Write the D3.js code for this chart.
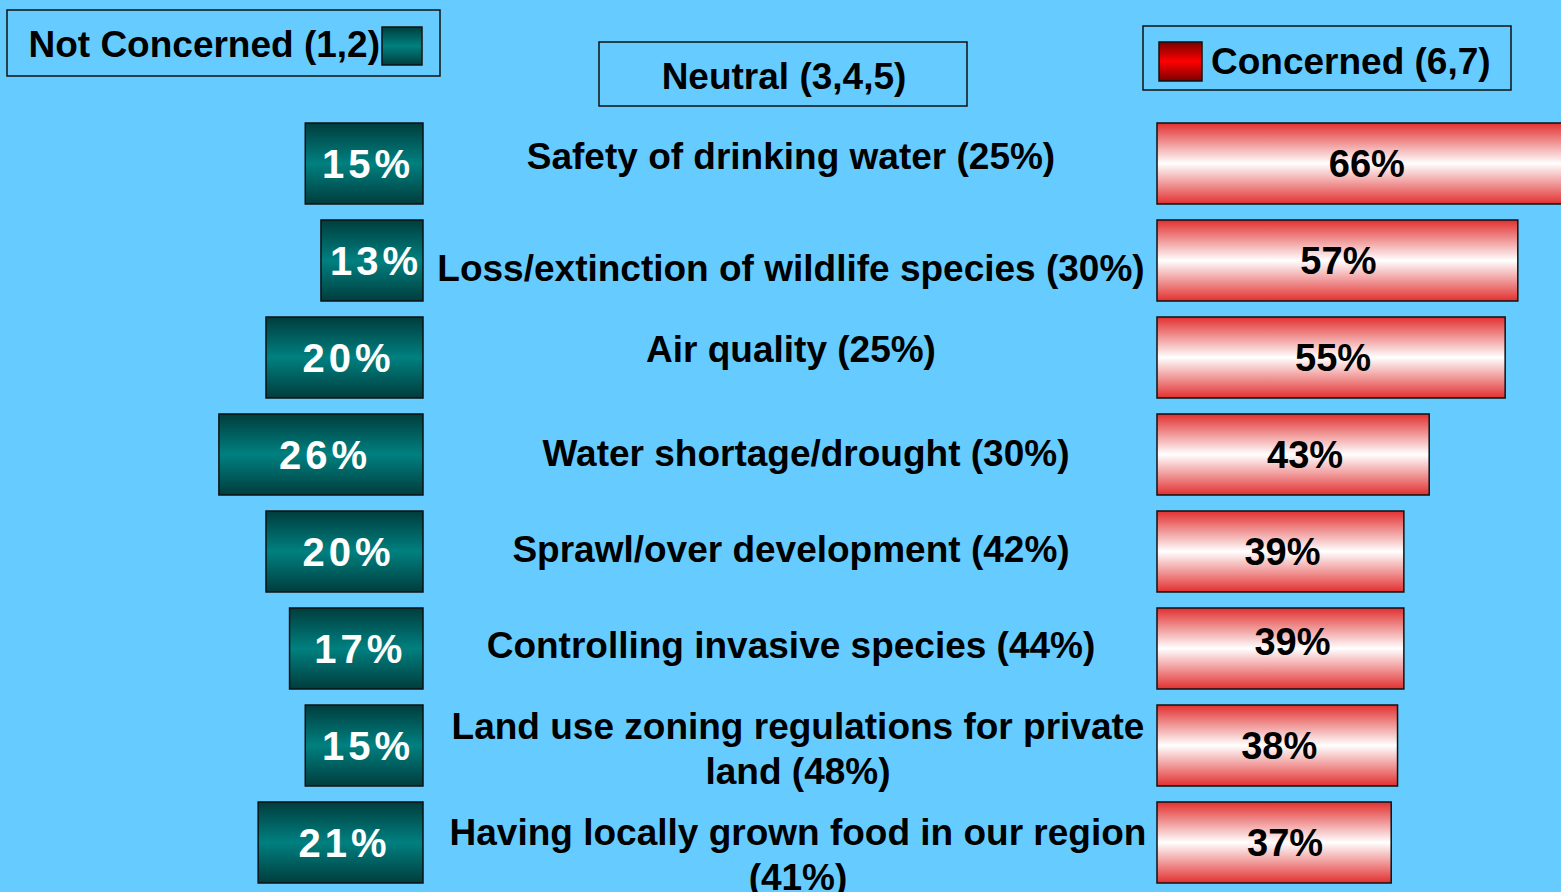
<!DOCTYPE html>
<html>
<head>
<meta charset="utf-8">
<script src="https://cdn.jsdelivr.net/npm/d3@7"></script>
<style>
  html, body { margin: 0; padding: 0; background: #66CCFF; overflow: hidden; }
  svg { display: block; font-family: "Liberation Sans", Arial, sans-serif; font-weight: bold; }
</style>
</head>
<body>
<div id="chart"></div>
<script>
// data
const categories = [
    "Safety of drinking water (25%)",
    "Loss/extinction of wildlife species (30%)",
    "Air quality (25%)",
    "Water shortage/drought (30%)",
    "Sprawl/over development (42%)",
    "Controlling invasive species (44%)",
    "Land use zoning regulations for private|land (48%)",
    "Having locally grown food in our region|(41%)"
];
const notConcerned = [15, 13, 20, 26, 20, 17, 15, 21];
const concerned = [66, 57, 55, 43, 39, 39, 38, 37];
const legendLabels = ["Not Concerned (1,2)", "Neutral (3,4,5)", "Concerned (6,7)"];

const width = 1561, height = 892;
// small per-row nudges (layout only)
const labelDx = [0, 0, 0, 15, 0, 0, 7, 7];
const labelDy = [5, 20, 4, 11, 10, 9, -7, 2];
const concernedDx = [1, 1, 2, 12, 2, 12, 2, 11];
const concernedDy = [0, 0, 0, 0, 0, -7, 0, 0];

const svg = d3.select("#chart")
    .append("svg")
    .attr("width", width)
    .attr("height", height);

svg.append("rect")
    .attr("width", width)
    .attr("height", height)
    .attr("fill", "#66CCFF");

const defs = svg.append("defs");

const addGradient = (id, edge, mid) => {
    const g = defs.append("linearGradient")
        .attr("id", id)
        .attr("x1", 0).attr("y1", 0)
        .attr("x2", 0).attr("y2", 1);
    g.append("stop").attr("offset", "0%").attr("stop-color", edge);
    g.append("stop").attr("offset", "50%").attr("stop-color", mid);
    g.append("stop").attr("offset", "100%").attr("stop-color", edge);
};
addGradient("teal", "#003d3d", "#008080");
addGradient("whiteRed", "#e23030", "#ffffff");
addGradient("red", "#7a0000", "#ff0000");

// scales
const yScale = d3.scaleBand()
    .domain(categories)
    .range([123, 883])
    .paddingInner(16 / 97)
    .paddingOuter(0);

const leftEdge = 423, rightEdge = 1157;
const xLeft = d3.scaleLinear().domain([0, 100]).range([0, 785]);
const xRight = d3.scaleLinear().domain([0, 100]).range([0, 633]);

const rows = categories.map((c, i) => ({
    cat: c, lines: c.split("|"), nc: notConcerned[i], co: concerned[i],
    dx: labelDx[i], dy: labelDy[i], cdx: concernedDx[i], cdy: concernedDy[i]
}));

// not concerned bars
const leftG = svg.append("g");
leftG.selectAll("rect")
    .data(rows)
    .join("rect")
    .attr("x", d => leftEdge - xLeft(d.nc))
    .attr("y", d => yScale(d.cat))
    .attr("width", d => xLeft(d.nc))
    .attr("height", yScale.bandwidth())
    .attr("fill", "url(#teal)")
    .attr("stroke", "#111")
    .attr("stroke-width", 1.5);

leftG.selectAll("text")
    .data(rows)
    .join("text")
    .attr("x", d => leftEdge - xLeft(d.nc) / 2 + 4)
    .attr("y", d => yScale(d.cat) + yScale.bandwidth() / 2 + 14)
    .attr("text-anchor", "middle")
    .attr("fill", "#fff")
    .attr("font-size", 40)
    .attr("letter-spacing", 4)
    .text(d => d.nc + "%");

// concerned bars
const rightG = svg.append("g");
rightG.selectAll("rect")
    .data(rows)
    .join("rect")
    .attr("x", rightEdge)
    .attr("y", d => yScale(d.cat))
    .attr("width", d => xRight(d.co))
    .attr("height", yScale.bandwidth())
    .attr("fill", "url(#whiteRed)")
    .attr("stroke", "#111")
    .attr("stroke-width", 1.5);

rightG.selectAll("text")
    .data(rows)
    .join("text")
    .attr("x", d => rightEdge + xRight(d.co) / 2 + d.cdx)
    .attr("y", d => yScale(d.cat) + yScale.bandwidth() / 2 + 13 + d.cdy)
    .attr("text-anchor", "middle")
    .attr("fill", "#000")
    .attr("font-size", 38)
    .text(d => d.co + "%");

// category labels in the middle
const labelG = svg.append("g");
labelG.selectAll("text")
    .data(rows)
    .join("text")
    .attr("y", d => yScale(d.cat) + yScale.bandwidth() / 2 + d.dy)
    .attr("text-anchor", "middle")
    .attr("fill", "#000")
    .attr("font-size", 37)
    .each(function(d) {
        d3.select(this).selectAll("tspan")
            .data(d.lines)
            .join("tspan")
            .attr("x", 791 + d.dx)
            .attr("dy", (l, j) => j === 0 ? 0 : 45)
            .text(l => l);
    });

// legend boxes
const legend = svg.append("g");

legend.append("rect")
    .attr("x", 7).attr("y", 10).attr("width", 433).attr("height", 66)
    .attr("fill", "none").attr("stroke", "#111").attr("stroke-width", 1.5);
legend.append("text")
    .attr("x", 380).attr("y", 57)
    .attr("text-anchor", "end")
    .attr("font-size", 37)
    .text(legendLabels[0]);
legend.append("rect")
    .attr("x", 382).attr("y", 27).attr("width", 40).attr("height", 38)
    .attr("fill", "url(#teal)").attr("stroke", "#111").attr("stroke-width", 1.5);

legend.append("rect")
    .attr("x", 599).attr("y", 42).attr("width", 368).attr("height", 64)
    .attr("fill", "none").attr("stroke", "#111").attr("stroke-width", 1.5);
legend.append("text")
    .attr("x", 784).attr("y", 89)
    .attr("text-anchor", "middle")
    .attr("font-size", 37)
    .text(legendLabels[1]);

legend.append("rect")
    .attr("x", 1143).attr("y", 26).attr("width", 368).attr("height", 64)
    .attr("fill", "none").attr("stroke", "#111").attr("stroke-width", 1.5);
legend.append("rect")
    .attr("x", 1159).attr("y", 42).attr("width", 43).attr("height", 39)
    .attr("fill", "url(#red)").attr("stroke", "#111").attr("stroke-width", 1.5);
legend.append("text")
    .attr("x", 1211).attr("y", 74)
    .attr("font-size", 37)
    .text(legendLabels[2]);
</script>
</body>
</html>
